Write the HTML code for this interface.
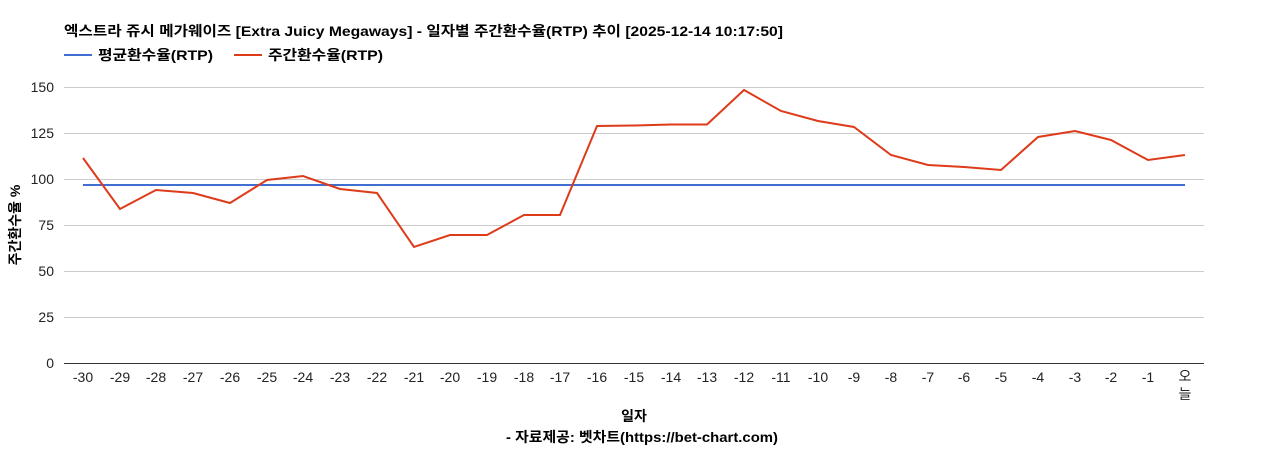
<!DOCTYPE html>
<html><head><meta charset="utf-8"><style>
body{margin:0;background:#fff;}
svg text{font-family:"Liberation Sans","Noto Sans CJK KR",sans-serif;}
</style></head><body>
<svg width="1268" height="450" xmlns="http://www.w3.org/2000/svg">
<text x="64" y="36" font-size="14" font-weight="bold" fill="#000" textLength="719" lengthAdjust="spacingAndGlyphs">엑스트라 쥬시 메가웨이즈 [Extra Juicy Megaways] - 일자별 주간환수율(RTP) 추이 [2025-12-14 10:17:50]</text>
<line x1="64" y1="55" x2="92" y2="55" stroke="#3f6fd1" stroke-width="2"/>
<text x="98" y="60" font-size="14" font-weight="bold" textLength="115" lengthAdjust="spacingAndGlyphs">평균환수율(RTP)</text>
<line x1="234" y1="55" x2="262" y2="55" stroke="#dd3b1a" stroke-width="2"/>
<text x="268" y="60" font-size="14" font-weight="bold" textLength="115" lengthAdjust="spacingAndGlyphs">주간환수율(RTP)</text>
<g stroke="#cccccc" stroke-width="1">
<line x1="64" y1="87.5" x2="1204" y2="87.5"/>
<line x1="64" y1="133.5" x2="1204" y2="133.5"/>
<line x1="64" y1="179.5" x2="1204" y2="179.5"/>
<line x1="64" y1="225.5" x2="1204" y2="225.5"/>
<line x1="64" y1="271.5" x2="1204" y2="271.5"/>
<line x1="64" y1="317.5" x2="1204" y2="317.5"/>
</g>
<line x1="64" y1="363.5" x2="1204" y2="363.5" stroke="#333" stroke-width="1"/>
<g font-size="14" text-anchor="end" fill="#222">
<text x="54" y="92">150</text><text x="54" y="138">125</text><text x="54" y="184">100</text>
<text x="54" y="230">75</text><text x="54" y="276">50</text><text x="54" y="322">25</text><text x="54" y="368">0</text>
</g>
<text transform="translate(20,225) rotate(-90)" font-size="14" font-weight="bold" text-anchor="middle">주간환수율 %</text>
<g font-size="14" text-anchor="middle" fill="#222">
<text x="83" y="382">-30</text><text x="120" y="382">-29</text><text x="156" y="382">-28</text><text x="193" y="382">-27</text><text x="230" y="382">-26</text><text x="267" y="382">-25</text><text x="303" y="382">-24</text><text x="340" y="382">-23</text><text x="377" y="382">-22</text><text x="414" y="382">-21</text><text x="450" y="382">-20</text><text x="487" y="382">-19</text><text x="524" y="382">-18</text><text x="560" y="382">-17</text><text x="597" y="382">-16</text><text x="634" y="382">-15</text><text x="671" y="382">-14</text><text x="707" y="382">-13</text><text x="744" y="382">-12</text><text x="781" y="382">-11</text><text x="818" y="382">-10</text><text x="854" y="382">-9</text><text x="891" y="382">-8</text><text x="928" y="382">-7</text><text x="964" y="382">-6</text><text x="1001" y="382">-5</text><text x="1038" y="382">-4</text><text x="1075" y="382">-3</text><text x="1111" y="382">-2</text><text x="1148" y="382">-1</text>
<text x="1185" y="381">오</text><text x="1185" y="399">늘</text>
</g>
<line x1="83" y1="185" x2="1185" y2="185" stroke="#3f6fd1" stroke-width="2"/>
<polyline fill="none" stroke="#dd3b1a" stroke-width="2" points="83,158 120,209 156,190 193,193 230,203 267,180 303,176 340,189 377,193 414,247 450,235 487,235 524,215 560,215 597,126 634,125.5 671,124.5 707,124.5 744,90 781,111 818,121 854,127 891,155 928,165 964,167 1001,170 1038,137 1075,131 1111,140 1148,160 1185,155"/>
<text x="634" y="421" font-size="14" font-weight="bold" text-anchor="middle">일자</text>
<text x="642" y="442" font-size="14" font-weight="bold" text-anchor="middle" textLength="272" lengthAdjust="spacingAndGlyphs">- 자료제공: 벳차트(https://bet-chart.com)</text>
</svg>
</body></html>
